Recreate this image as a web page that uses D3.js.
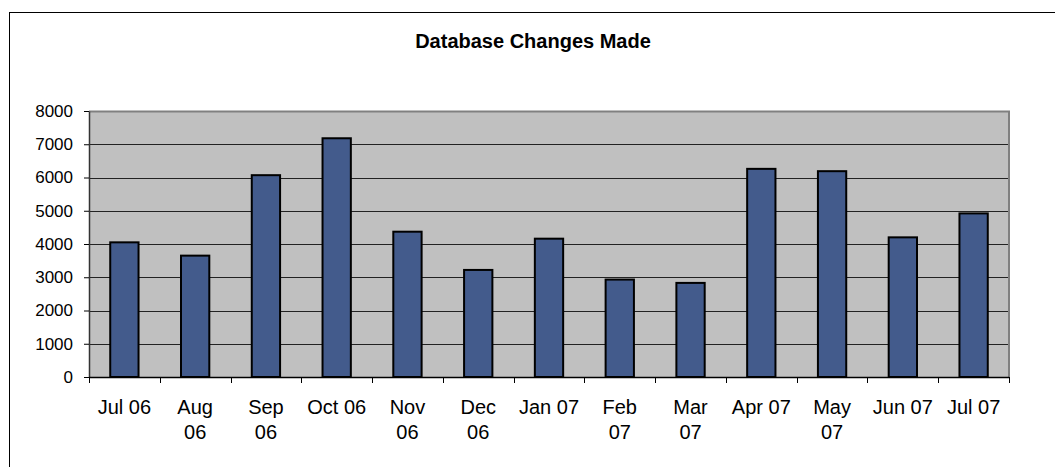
<!DOCTYPE html>
<html>
<head>
<meta charset="utf-8">
<script src="https://cdn.jsdelivr.net/npm/d3@7"></script>
<style>
  html, body { margin: 0; padding: 0; background: #fff; }
  svg { display: block; font-family: Arial, "Liberation Sans", sans-serif; }
</style>
</head>
<body>
<svg id="chart" width="1055" height="467"></svg>
<script>
const title = "Database Changes Made";
const categories = ["Jul 06","Aug 06","Sep 06","Oct 06","Nov 06","Dec 06","Jan 07","Feb 07","Mar 07","Apr 07","May 07","Jun 07","Jul 07"];
const categoryLines = [["Jul 06"],["Aug","06"],["Sep","06"],["Oct 06"],["Nov","06"],["Dec","06"],["Jan 07"],["Feb","07"],["Mar","07"],["Apr 07"],["May","07"],["Jun 07"],["Jul 07"]];
const values = [4050, 3650, 6070, 7180, 4370, 3220, 4160, 2930, 2830, 6260, 6190, 4200, 4920];
const yTicks = [0,1000,2000,3000,4000,5000,6000,7000,8000];

const svg = d3.select("#chart");
const pLeft = 89, pRight = 1009, pTop = 111, pBottom = 377;

// outer chart border (extends past right/bottom edges)
svg.append("rect").attr("x", 9.5).attr("y", 12.5).attr("width", 1200).attr("height", 600)
  .attr("fill", "#fff").attr("stroke", "#000").attr("stroke-width", 1);

svg.append("text").attr("x", 533).attr("y", 48).attr("text-anchor", "middle")
  .attr("font-weight", "bold").attr("font-size", 20).attr("fill", "#000").text(title);

const x = d3.scaleBand().domain(categories).range([pLeft, pRight]).paddingInner(0.6).paddingOuter(0.3);
const xb = d3.scaleBand().domain(categories).range([pLeft, pRight]);
const y = d3.scaleLinear().domain([0, 8000]).range([pBottom, pTop]);

// plot area
svg.append("rect").attr("x", pLeft).attr("y", pTop).attr("width", pRight - pLeft).attr("height", pBottom - pTop)
  .attr("fill", "#C0C0C0");

// gridlines
svg.append("g").selectAll("line").data(yTicks.filter(d => d > 0)).join("line")
  .attr("x1", pLeft).attr("x2", pRight)
  .attr("y1", d => Math.round(y(d)) + 0.5).attr("y2", d => Math.round(y(d)) + 0.5)
  .attr("stroke", "#222").attr("stroke-width", 1);

// plot border top/right gray
svg.append("path")
  .attr("d", `M${pLeft},${pTop + 0.5}H${pRight}V${pBottom}`)
  .attr("fill", "none").attr("stroke", "#808080").attr("stroke-width", 2);

// bars
svg.append("g").selectAll("rect").data(values).join("rect")
  .attr("x", (d, i) => x(categories[i]))
  .attr("width", x.bandwidth())
  .attr("y", d => y(d))
  .attr("height", d => y(0) - y(d))
  .attr("fill", "#435B8C").attr("stroke", "#000").attr("stroke-width", 2);

// y axis
const yAxis = d3.axisLeft(y).tickValues(yTicks).tickFormat(d3.format("d"))
  .tickSize(5).tickPadding(11).tickSizeOuter(0);
const gy = svg.append("g").attr("transform", `translate(${pLeft},0)`).call(yAxis);
gy.select(".domain").attr("stroke", "#333").attr("stroke-width", 1.5);
gy.selectAll(".tick line").attr("stroke", "#000");
gy.selectAll(".tick text").attr("font-size", 17).attr("font-family", "Arial, 'Liberation Sans', sans-serif").attr("fill", "#000");

// x axis (ticks at category boundaries)
const bounds = categories.map(c => xb(c)).concat([pRight]);
const gx = svg.append("g");
gx.append("line").attr("x1", pLeft).attr("x2", pRight).attr("y1", pBottom + 0.5).attr("y2", pBottom + 0.5)
  .attr("stroke", "#000").attr("stroke-width", 1.5);
gx.selectAll("line.tk").data(bounds).join("line").attr("class", "tk")
  .attr("x1", d => Math.round(d) + 0.5).attr("x2", d => Math.round(d) + 0.5)
  .attr("y1", pBottom).attr("y2", pBottom + 6).attr("stroke", "#000");

gx.selectAll("text.lbl").data(categoryLines).join("text").attr("class", "lbl")
  .attr("x", (d, i) => xb(categories[i]) + xb.bandwidth() / 2)
  .attr("y", 414).attr("text-anchor", "middle").attr("font-size", 20).attr("fill", "#000")
  .each(function(d) {
    const t = d3.select(this);
    d.forEach((line, j) => {
      t.append("tspan").attr("x", t.attr("x")).attr("dy", j === 0 ? 0 : 25).text(line);
    });
  });
</script>
</body>
</html>
